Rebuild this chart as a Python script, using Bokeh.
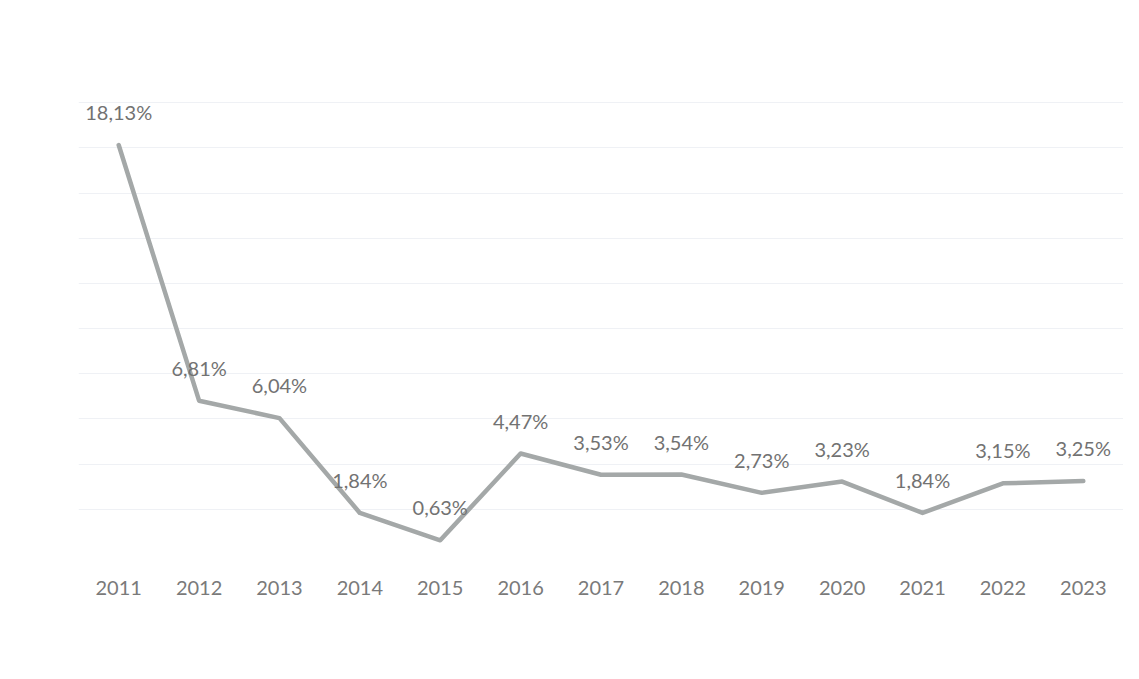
from bokeh.plotting import figure
from bokeh.models import ColumnDataSource, FixedTicker, Range1d, FactorRange, LabelSet
from bokeh.core.properties import value
from bokeh.embed import file_html
from bokeh.resources import INLINE

years = ["2011", "2012", "2013", "2014", "2015", "2016", "2017",
         "2018", "2019", "2020", "2021", "2022", "2023"]
rates = [18.13, 6.81, 6.04, 1.84, 0.63, 4.47, 3.53, 3.54, 2.73, 3.23, 1.84, 3.15, 3.25]
labels = [f"{v:.2f}%".replace(".", ",") for v in rates]

src = ColumnDataSource(dict(x=years, y=rates, lab=labels))

p = figure(width=1123, height=663, output_backend="svg", toolbar_location=None,
           x_range=FactorRange(factors=years, range_padding=0),
           y_range=Range1d(0, 20.5),
           min_border_left=78, min_border_right=0,
           min_border_top=91, min_border_bottom=109)
p.outline_line_color = None
p.background_fill_color = "white"
p.border_fill_color = "white"

p.line("x", "y", source=src, line_color="#a4a8a8", line_width=4.5, line_join="round", line_cap="round")

ls = LabelSet(x="x", y="y", text="lab", source=src, text_align="center",
              text_baseline="middle", y_offset=33, text_font=value("Lato"),
              text_font_size="20px", text_color="#727272")
p.add_layout(ls)

p.yaxis.visible = False
p.xgrid.visible = False
p.ygrid.ticker = FixedTicker(ticks=list(range(2, 21, 2)))
p.ygrid.grid_line_color = "#eff1f5"
p.ygrid.grid_line_width = 1

ax = p.xaxis[0]
ax.axis_line_color = None
ax.major_tick_line_color = None
ax.minor_tick_line_color = None
ax.major_label_standoff = 20
ax.major_label_text_font = "Lato"
ax.major_label_text_font_size = "20px"
ax.major_label_text_color = "#7a7a7a"

open("out.html", "w").write(file_html(p, INLINE))
